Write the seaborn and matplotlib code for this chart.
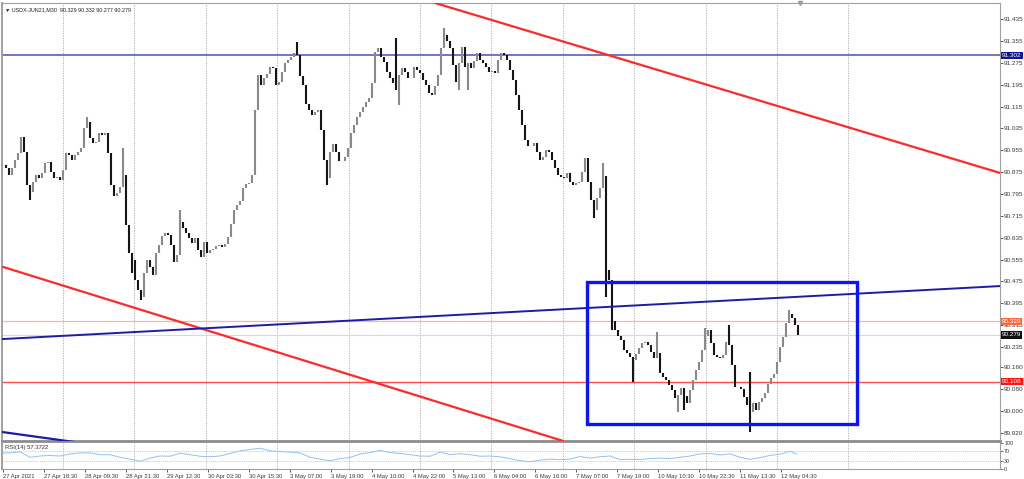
import numpy as np
import seaborn as sns
import matplotlib
matplotlib.use("Agg")
from matplotlib import pyplot as plt
import matplotlib.transforms as mtransforms

# ---- data (M30 bars, one value per bar) ----
symbol = "USDX-JUN21,M30"
last_ohlc = ["90.329", "90.332", "90.277", "90.279"]

close = [
    90.901, 90.890, 90.864, 90.890, 90.919, 90.945, 91.003, 90.948, 90.828, 90.802,
    90.839, 90.864, 90.853, 90.871, 90.908, 90.912, 90.875, 90.853, 90.857, 90.846,
    90.882, 90.945, 90.937, 90.919, 90.937, 90.948, 90.963, 91.036, 91.058, 91.000,
    90.981, 90.985, 91.018, 91.011, 91.018, 90.945, 90.828, 90.787, 90.798, 90.820,
    90.864, 90.681, 90.579, 90.553, 90.480, 90.443, 90.418, 90.506, 90.553, 90.528,
    90.498, 90.579, 90.608, 90.641, 90.652, 90.645, 90.608, 90.546, 90.572, 90.692,
    90.670, 90.652, 90.634, 90.615, 90.634, 90.590, 90.564, 90.619, 90.579, 90.590,
    90.593, 90.604, 90.608, 90.601, 90.612, 90.637, 90.685, 90.736, 90.754, 90.769,
    90.817, 90.831, 90.835, 90.864, 91.102, 91.230, 91.194, 91.219, 91.234, 91.259,
    91.256, 91.194, 91.204, 91.241, 91.274, 91.285, 91.296, 91.311, 91.303, 91.226,
    91.194, 91.124, 91.102, 91.084, 91.095, 91.102, 91.029, 90.919, 90.853, 90.948,
    90.978, 90.948, 90.915, 90.915, 90.930, 90.963, 91.018, 91.047, 91.076, 91.095,
    91.113, 91.131, 91.146, 91.201, 91.314, 91.329, 91.296, 91.278, 91.241, 91.219,
    91.201, 91.175, 91.230, 91.256, 91.241, 91.219, 91.219, 91.259, 91.248, 91.237,
    91.212, 91.194, 91.164, 91.157, 91.190, 91.230, 91.329, 91.376, 91.354, 91.329,
    91.267, 91.204, 91.274, 91.333, 91.259, 91.274, 91.256, 91.281, 91.311, 91.285,
    91.274, 91.259, 91.241, 91.245, 91.237, 91.285, 91.311, 91.303, 91.285, 91.248,
    91.212, 91.157, 91.102, 91.047, 90.992, 90.970, 90.970, 90.981, 90.948, 90.919,
    90.930, 90.956, 90.948, 90.919, 90.890, 90.864, 90.857, 90.853, 90.871, 90.839,
    90.828, 90.835, 90.839, 90.875, 90.926, 90.839, 90.773, 90.736, 90.780, 90.817,
    90.861, 90.517, 90.480, 90.330, 90.297, 90.275, 90.260, 90.224, 90.213, 90.198,
    90.187, 90.209, 90.231, 90.250, 90.253, 90.242, 90.217, 90.195, 90.213, 90.140,
    90.125, 90.114, 90.096, 90.078, 90.048, 90.059, 90.085, 90.056, 90.030, 90.078,
    90.114, 90.151, 90.180, 90.224, 90.275, 90.297, 90.250, 90.206, 90.198, 90.195,
    90.206, 90.253, 90.242, 90.169, 90.088, 90.088, 90.081, 90.052, 90.023, 89.997,
    90.030, 90.004, 90.034, 90.048, 90.067, 90.099, 90.121, 90.136, 90.180, 90.235,
    90.271, 90.323, 90.356, 90.341, 90.315, 90.279,
]

# visible wick extremes (bar number, price)
wick_bar = [9, 28, 40, 43, 46, 59, 98, 108, 131, 132, 147, 152, 155, 197, 200,
            201, 203, 210, 218, 225, 227, 234, 242, 249, 249, 262]
wick_price = [90.773, 91.076, 90.963, 90.506, 90.407, 90.736, 91.351, 90.828, 91.365,
              91.120, 91.402, 91.175, 91.175, 90.707, 90.908, 90.418, 90.297, 90.107,
              90.290, 89.997, 90.004, 90.304, 90.315, 89.924, 90.143, 90.370]

rsi = [61, 62, 66, 45, 50, 52, 50, 58, 62, 62,
       55, 55, 45, 38, 30, 42, 50, 49, 61, 55,
       49, 47, 50, 60, 70, 75, 80, 70, 67, 65,
       62, 45, 38, 32, 40, 44, 58, 63, 72, 63,
       60, 55, 50, 49, 65, 55, 59, 55, 49, 50,
       47, 40, 32, 28, 34, 38, 36, 38, 48, 42,
       47, 50, 36, 37, 37, 40, 42, 40, 45, 50,
       58, 60, 54, 58, 45, 37, 44, 52, 57, 68, 57.3722]
rsi_last = "57.3722"

date_labels = ["27 Apr 2021", "27 Apr 18:30", "28 Apr 09:30", "28 Apr 21:30",
               "29 Apr 12:30", "30 Apr 03:30", "30 Apr 15:30", "3 May 07:00",
               "3 May 19:00", "4 May 10:00", "4 May 22:00", "5 May 13:00",
               "6 May 04:00", "6 May 16:00", "7 May 07:00", "7 May 19:00",
               "10 May 10:30", "10 May 22:30", "11 May 13:30", "12 May 04:30"]

price_ticks = [91.435, 91.355, 91.275, 91.195, 91.115, 91.035, 90.955, 90.875,
               90.795, 90.715, 90.635, 90.555, 90.475, 90.395, 90.315, 90.235,
               90.160, 90.080, 90.000, 89.920]

# chart objects: anchor points (bar, price)
red_upper = ([144, 332.3], [91.494, 90.872])
red_lower = ([0, 186.7], [90.528, 89.891])
navy_long = ([-0.33, 332.3], [90.264, 90.458])
navy_short = ([-0.33, 24], [89.924, 89.887])
box_bars = [194.7, 284.7]
box_prices = [89.953, 90.473]

level_blue = 91.302
level_ask = 90.329
level_bid = 90.279
level_red = 90.108

# ---- figure ----
sns.set_style("white")
plt.rcParams['font.family'] = ['Liberation Sans', 'DejaVu Sans']

W, H = 1024, 479
fig = plt.figure(figsize=(W / 100, H / 100), dpi=100)
ax = fig.add_axes([2 / W, 1 - 441 / H, 998 / W, 438 / H])
rax = fig.add_axes([2 / W, 1 - 469 / H, 998 / W, 26 / H], sharex=ax)

xmin, xmax = -0.33, 332.3
ax.set_xlim(xmin, xmax)
ax.set_ylim(89.891, 91.494)
rax.set_ylim(3, 100)

# vertical dotted grid (stops at the chart-shift zone)
grid_step = 23.8
for gx in np.arange(20, 285, grid_step):
    for a in (ax, rax):
        a.axvline(gx, color="#a8a8a8", lw=0.6, ls=(0, (1.5, 1.5)), zorder=0)

# price bars
c = np.array(close)
o = np.r_[c[0], c[:-1]]
idx = np.arange(len(c))
hi = np.maximum(o, c)
lo = np.minimum(o, c)
for b, p in zip(wick_bar, wick_price):
    hi[b] = max(hi[b], p)
    lo[b] = min(lo[b], p)
up = c >= o
ax.vlines(idx[up], lo[up], hi[up], color="#8a8a8a", lw=1.5, zorder=3)
ax.vlines(idx[~up], lo[~up], hi[~up], color="#151515", lw=1.5, zorder=3)

# horizontal levels
ax.axhline(level_blue, color="#7474c4", lw=1.4, zorder=2)
ax.axhline(level_ask, color="#ffb4a0", lw=0.9, zorder=2)
ax.axhline(level_bid, color="#d8d8d8", lw=0.8, zorder=2)
ax.axhline(level_red, color="#ff4a4a", lw=1.0, zorder=2)

# trend lines
ax.plot(*red_upper, color="#ff2a2a", lw=1.6, zorder=4)
ax.plot(*red_lower, color="#ff2a2a", lw=1.6, zorder=4)
ax.plot(*navy_long, color="#1c1ca4", lw=1.4, zorder=4)
ax.plot(*navy_short, color="#1c1ca4", lw=1.6, zorder=4)
ax.add_patch(plt.Rectangle((box_bars[0], box_prices[0]), box_bars[1] - box_bars[0],
                           box_prices[1] - box_prices[0], fill=False,
                           edgecolor="#0a14ff", lw=2.4, zorder=5))

# chart shift marker
ax.plot([265.7], [91.494], marker="v", ms=3, color="#a0a0a0", clip_on=False, zorder=6)

# right price scale
ax.yaxis.tick_right()
ax.set_yticks(price_ticks)
ax.set_yticklabels([f"{p:.3f}" for p in price_ticks])
ax.tick_params(axis="y", labelsize=4.6, length=2.0, width=0.6, pad=1.0,
               colors="#3a3a3a")
ax.tick_params(axis="x", bottom=False, labelbottom=False)

trans = mtransforms.blended_transform_factory(ax.transAxes, ax.transData)
for val, fc in [(level_blue, "#14148c"), (level_ask, "#ff6a3a"),
                (level_bid, "#101010"), (level_red, "#ff1414")]:
    ax.text(1.002, val, f"{val:.3f}", transform=trans, fontsize=4.6, color="white",
            va="center", ha="left", clip_on=False, zorder=10,
            bbox=dict(facecolor=fc, edgecolor="none", pad=0.8))

for s in ax.spines.values():
    s.set_color("#a0a0a0")
    s.set_linewidth(0.8)
ax.spines["bottom"].set_linewidth(2.0)
ax.spines["bottom"].set_color("#8c8c8c")
ax.spines["left"].set_linewidth(1.4)

ax.text(0.003, 0.991, "\u25bc " + symbol + "  " + " ".join(last_ohlc),
        transform=ax.transAxes, fontsize=3.9, va="top", ha="left", color="#202020")

# RSI panel
rsi_x = np.r_[(np.arange(len(rsi) - 1) * 10 - 3) / 3, (797 - 3) / 3]
sns.lineplot(x=rsi_x, y=rsi, ax=rax, color="#8fc2f5", lw=0.7)
for lvl in (70, 30):
    rax.axhline(lvl, color="#b4b4b4", lw=0.5, ls=(0, (1.5, 1.5)), zorder=0)
rax.text(0.003, 0.92, "RSI(14) " + rsi_last, transform=rax.transAxes,
         fontsize=4.2, va="top", ha="left", color="#303030")

rax.yaxis.tick_right()
rax.set_yticks([100, 70, 30, 0])
rax.set_yticklabels(["100", "70", "30", "0"])
rax.tick_params(axis="y", labelsize=3.9, length=2, width=0.5, pad=1.0,
                colors="#3a3a3a")
rax.set_xticks(np.arange(len(date_labels)) * 13.65)
rax.set_xticklabels(date_labels, ha="left")
rax.tick_params(axis="x", labelsize=4.2, length=2.5, width=0.6, pad=1.2,
                colors="#3a3a3a", bottom=True)
for s in rax.spines.values():
    s.set_color("#a0a0a0")
    s.set_linewidth(0.8)
rax.spines["top"].set_visible(False)
rax.spines["left"].set_linewidth(1.4)
rax.set_xlim(xmin, xmax)

fig.savefig("out.png", dpi=100, facecolor="white")
